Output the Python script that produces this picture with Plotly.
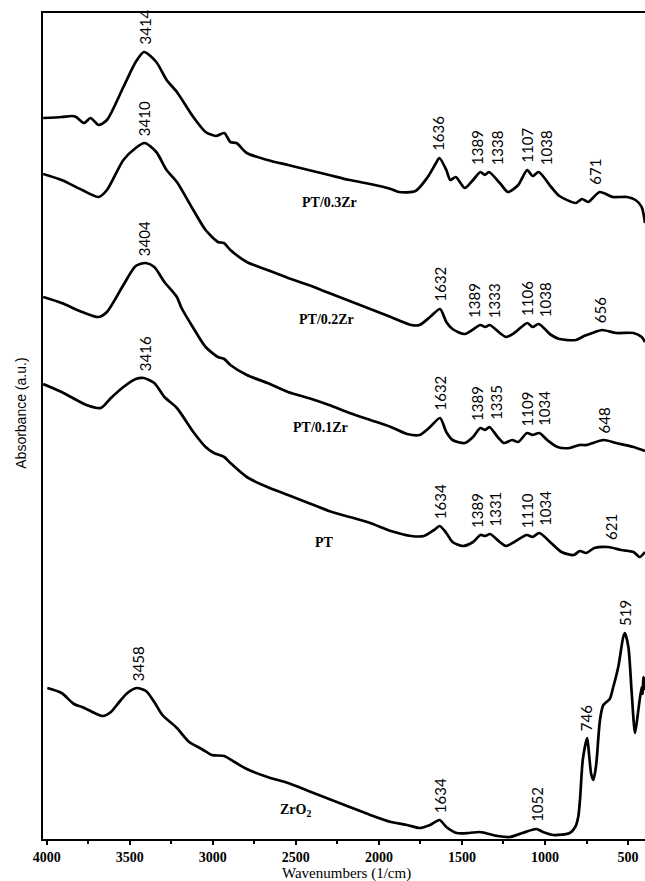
import numpy as np
import plotly.graph_objects as go

# ---------------- data (wavenumber in 1/cm, absorbance in a.u.) ----------------
series_names = ["PT/0.3Zr", "PT/0.2Zr", "PT/0.1Zr", "PT", "ZrO<sub>2</sub>"]

wn_pt03 = [4021, 3910, 3848, 3823, 3774, 3736, 3687, 3637, 3538, 3464, 3414, 3340, 3278, 3216, 3117, 3043,
           2981, 2931, 2894, 2857, 2795, 2671, 2547, 2424, 2300, 2176, 2052, 1928, 1879, 1780, 1706, 1656,
           1636, 1594, 1570, 1537, 1483, 1433, 1389, 1362, 1338, 1272, 1223, 1161, 1107, 1075, 1038, 963,
           913, 814, 777, 740, 671, 591, 505, 455, 418, 398]
ab_pt03 = [7.21, 7.22, 7.23, 7.22, 7.16, 7.21, 7.14, 7.19, 7.52, 7.77, 7.87, 7.77, 7.59, 7.47, 7.22, 7.07,
           7.03, 7.06, 6.97, 6.96, 6.86, 6.79, 6.74, 6.69, 6.64, 6.59, 6.55, 6.50, 6.47, 6.48, 6.62, 6.76,
           6.81, 6.69, 6.59, 6.62, 6.51, 6.59, 6.67, 6.64, 6.67, 6.56, 6.47, 6.54, 6.69, 6.63, 6.67, 6.52,
           6.43, 6.36, 6.40, 6.37, 6.47, 6.42, 6.42, 6.39, 6.32, 6.16]

wn_pt02 = [4021, 3910, 3786, 3687, 3637, 3538, 3464, 3410, 3340, 3278, 3216, 3117, 3043, 2969, 2933, 2894,
           2795, 2671, 2547, 2424, 2300, 2176, 2052, 1928, 1805, 1755, 1692, 1632, 1594, 1557, 1483, 1389,
           1360, 1333, 1272, 1235, 1185, 1106, 1075, 1038, 963, 913, 814, 765, 715, 656, 571, 467,
           418, 398]
ab_pt02 = [6.65, 6.59, 6.49, 6.42, 6.49, 6.79, 6.91, 6.96, 6.87, 6.69, 6.57, 6.29, 6.09, 5.97, 5.96, 5.89,
           5.77, 5.69, 5.61, 5.54, 5.46, 5.38, 5.30, 5.22, 5.14, 5.14, 5.22, 5.30, 5.17, 5.10, 5.05, 5.14,
           5.12, 5.14, 5.06, 5.02, 5.06, 5.16, 5.12, 5.15, 5.04, 5.00, 4.99, 5.03, 5.06, 5.09, 5.06, 5.06,
           5.02, 4.97]

wn_pt01 = [4021, 3910, 3786, 3687, 3637, 3538, 3464, 3404, 3352, 3291, 3216, 3191, 3117, 3043, 2969, 2931,
           2894, 2795, 2671, 2547, 2424, 2300, 2176, 2052, 1928, 1830, 1755, 1692, 1632, 1594, 1557, 1483,
           1433, 1389, 1360, 1335, 1285, 1247, 1198, 1161, 1109, 1075, 1034, 987, 925, 851, 793, 752,
           648, 571, 467, 398]
ab_pt01 = [5.42, 5.36, 5.27, 5.22, 5.27, 5.54, 5.73, 5.76, 5.72, 5.57, 5.42, 5.32, 5.11, 4.92, 4.82, 4.80,
           4.74, 4.64, 4.56, 4.47, 4.41, 4.34, 4.26, 4.19, 4.12, 4.05, 4.04, 4.12, 4.21, 4.07, 3.99, 3.96,
           4.02, 4.11, 4.09, 4.12, 4.02, 3.96, 3.99, 3.97, 4.06, 4.04, 4.06, 3.99, 3.92, 3.91, 3.94, 3.94,
           3.99, 3.96, 3.92, 3.88]

wn_pt = [4021, 3910, 3761, 3674, 3613, 3538, 3464, 3416, 3352, 3291, 3216, 3117, 3043, 2993, 2931, 2894,
         2795, 2671, 2547, 2424, 2300, 2176, 2052, 1928, 1805, 1730, 1668, 1634, 1594, 1557, 1495, 1433,
         1389, 1360, 1331, 1272, 1235, 1185, 1110, 1075, 1034, 963, 901, 827, 790, 752, 703, 621,
         541, 467, 430, 398]
ab_pt = [4.55, 4.47, 4.34, 4.31, 4.41, 4.52, 4.60, 4.61, 4.56, 4.42, 4.31, 4.07, 3.92, 3.86, 3.82, 3.76,
         3.62, 3.52, 3.44, 3.36, 3.28, 3.22, 3.16, 3.08, 3.03, 3.03, 3.09, 3.13, 3.06, 2.97, 2.93, 2.97,
         3.04, 3.03, 3.05, 2.97, 2.93, 2.97, 3.04, 3.02, 3.06, 2.96, 2.87, 2.84, 2.88, 2.86, 2.91, 2.92,
         2.89, 2.87, 2.82, 2.87]

wn_zro2 = [3996, 3910, 3836, 3786, 3712, 3662, 3613, 3563, 3514, 3458, 3402, 3352, 3303, 3216, 3142, 3067,
           3006, 2931, 2869, 2795, 2671, 2547, 2424, 2300, 2176, 2052, 1928, 1830, 1755, 1692, 1634, 1594,
           1532, 1458, 1396, 1359, 1285, 1211, 1136, 1052, 1012, 950, 851, 818, 800, 789, 772, 746,
           735, 722, 709, 697, 689, 669, 649, 630, 610, 589, 559, 529, 519, 498, 478, 458,
           438, 418, 412, 408, 403, 398]
ab_zro2 = [1.51, 1.46, 1.35, 1.32, 1.26, 1.23, 1.27, 1.37, 1.46, 1.51, 1.48, 1.37, 1.24, 1.11, 0.97, 0.90,
           0.84, 0.83, 0.77, 0.70, 0.62, 0.56, 0.48, 0.40, 0.32, 0.24, 0.17, 0.14, 0.11, 0.14, 0.19, 0.12,
           0.06, 0.06, 0.07, 0.06, 0.03, 0.02, 0.06, 0.10, 0.07, 0.04, 0.06, 0.12, 0.22, 0.40, 0.80, 1.01,
           0.85, 0.65, 0.59, 0.68, 0.79, 1.19, 1.34, 1.37, 1.40, 1.52, 1.72, 2.02, 2.06, 1.92, 1.46, 1.06,
           1.29, 1.52, 1.45, 1.62, 1.50, 1.62]

peaks_pt03 = [3414, 1636, 1389, 1338, 1107, 1038, 671]
peaks_pt02 = [3410, 1632, 1389, 1333, 1106, 1038, 656]
peaks_pt01 = [3404, 1632, 1389, 1335, 1109, 1034, 648]
peaks_pt = [3416, 1634, 1389, 1331, 1110, 1034, 621]
peaks_zro2 = [3458, 1634, 1052, 746, 519]

# where each sample name sits (wavenumber, absorbance)
name_wn = [2300, 2313, 2349, 2325, 2499]
name_ab = [6.37, 5.20, 4.12, 2.97, 0.29]

x_ticks = [4000, 3500, 3000, 2500, 2000, 1500, 1000, 500]

# ---------------- styling ----------------
# horizontal pixel offsets so that adjacent peak labels don't collide
label_xshift = [
    [0, -2, -4, 8, -1, 7, -5],
    [-1, -1, -7, 4, -1, 6, -2],
    [-2, -1, -4, 6, 0, 4, 1],
    [1, 0, -4, 4, 0, 5, 3],
    [1, 0, 0, -1, 0],
]
label_gap_px = 5

waves = [wn_pt03, wn_pt02, wn_pt01, wn_pt, wn_zro2]
absorb = [ab_pt03, ab_pt02, ab_pt01, ab_pt, ab_zro2]
peaks = [peaks_pt03, peaks_pt02, peaks_pt01, peaks_pt, peaks_zro2]

fig = go.Figure()
for name, w, a in zip(series_names, waves, absorb):
    fig.add_trace(go.Scatter(x=w, y=a, mode="lines", name=name,
                             line=dict(color="black", width=2.7, shape="spline", smoothing=0.7),
                             showlegend=False, hoverinfo="skip"))

annotations = []
for s, (w, a, pk) in enumerate(zip(waves, absorb, peaks)):
    wa = np.array(w[::-1], dtype=float)
    aa = np.array(a[::-1], dtype=float)
    for i, p in enumerate(pk):
        win = (wa >= p - 12) & (wa <= p + 12)
        yv = aa[win].max() if win.any() else float(np.interp(p, wa, aa))
        annotations.append(dict(
            x=p, y=yv, xref="x", yref="y", text=str(p), showarrow=False,
            textangle=-90, xanchor="center", yanchor="bottom",
            xshift=label_xshift[s][i], yshift=label_gap_px,
            font=dict(family="Lato", size=15, color="black")))

for name, xw, ya in zip(series_names, name_wn, name_ab):
    annotations.append(dict(
        x=xw, y=ya, xref="x", yref="y", text="<b>" + name + "</b>", showarrow=False,
        xanchor="center", yanchor="middle",
        font=dict(family="Liberation Serif", size=14, color="black")))

# axis titles
annotations.append(dict(
    x=0.504, y=0, xref="paper", yref="paper", yanchor="top", xanchor="center", yshift=-24,
    text="Wavenumbers (1/cm)", showarrow=False,
    font=dict(family="Liberation Serif", size=15, color="black")))
annotations.append(dict(
    x=-0.038, y=0.515, xref="paper", yref="paper", xanchor="center", yanchor="middle",
    text="Absorbance (a.u.)", textangle=-90, showarrow=False,
    font=dict(family="Liberation Sans", size=14, color="black")))

fig.update_layout(
    width=645, height=881,
    margin=dict(l=43, r=0, t=13, b=42),
    paper_bgcolor="white", plot_bgcolor="white",
    annotations=annotations,
    xaxis=dict(range=[4022, 398], tickvals=x_ticks, ticktext=[str(t) for t in x_ticks],
               ticks="outside", ticklen=4, tickwidth=1.5, tickcolor="black",
               minor=dict(dtick=250, ticks="outside", ticklen=3, tickwidth=1.5, tickcolor="black"),
               showline=True, linecolor="black", linewidth=2, mirror=True,
               showgrid=False, zeroline=False,
               tickfont=dict(family="Liberation Serif", size=14, color="black", weight="bold")),
    yaxis=dict(range=[0, 8.26], showticklabels=False, ticks="",
               showline=True, linecolor="black", linewidth=2, mirror=False,
               showgrid=False, zeroline=False),
)

fig.write_html("out.html", config={"displayModeBar": False},
               post_script="document.body.style.margin='0';document.body.style.overflow='hidden';")
